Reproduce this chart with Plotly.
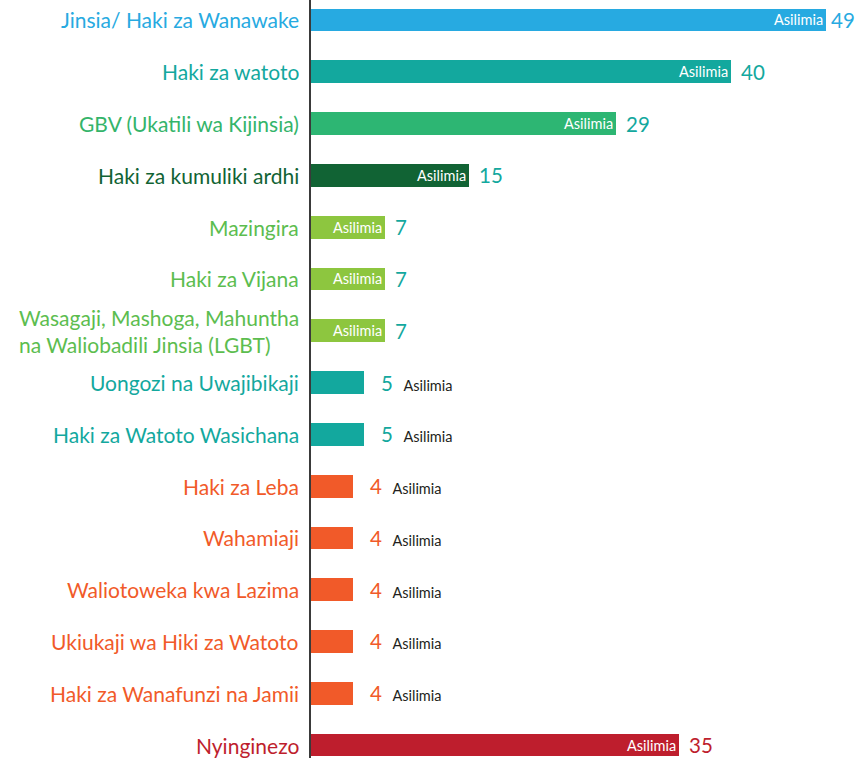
import plotly.graph_objects as go

categories = [
    "Jinsia/ Haki za Wanawake",
    "Haki za watoto",
    "GBV (Ukatili wa Kijinsia)",
    "Haki za kumuliki ardhi",
    "Mazingira",
    "Haki za Vijana",
    "Wasagaji, Mashoga, Mahuntha<br>na Waliobadili Jinsia (LGBT)",
    "Uongozi na Uwajibikaji",
    "Haki za Watoto Wasichana",
    "Haki za Leba",
    "Wahamiaji",
    "Waliotoweka kwa Lazima",
    "Ukiukaji wa Hiki za Watoto",
    "Haki za Wanafunzi na Jamii",
    "Nyinginezo",
]
values = [49, 40, 29, 15, 7, 7, 7, 5, 5, 4, 4, 4, 4, 4, 35]
unit_label = "Asilimia"

BLUE = "#27aae1"
TEAL = "#13a89e"
GREEN = "#2db673"
DKGREEN = "#116334"
LIME = "#8dc63f"
LIMETXT = "#5cbd4f"
ORANGE = "#f15a29"
RED = "#be1e2d"

bar_colors = [BLUE, TEAL, GREEN, DKGREEN, LIME, LIME, LIME, TEAL, TEAL,
              ORANGE, ORANGE, ORANGE, ORANGE, ORANGE, RED]
label_colors = [BLUE, TEAL, "#34b46a", DKGREEN, LIMETXT, LIMETXT, LIMETXT, TEAL, TEAL,
                ORANGE, ORANGE, ORANGE, ORANGE, ORANGE, RED]
value_colors = [BLUE, TEAL, TEAL, TEAL, TEAL, TEAL, TEAL, TEAL, TEAL,
                ORANGE, ORANGE, ORANGE, ORANGE, ORANGE, RED]

FONT = "Lato"
LABEL_SIZE = 21
SMALL_SIZE = 14.5
VALUE_SIZE = 20.5

ypos = list(range(len(categories)))

fig = go.Figure(go.Bar(
    x=values, y=ypos, orientation="h",
    marker=dict(color=bar_colors, line=dict(width=0)),
    width=0.44, hoverinfo="skip",
))

annotations = []
for i, (cat, v) in enumerate(zip(categories, values)):
    annotations.append(dict(
        x=0, y=i, xref="x", yref="y", text=cat, showarrow=False,
        xanchor="right", yanchor="middle", xshift=-10, align="left",
        font=dict(family=FONT, size=LABEL_SIZE, color=label_colors[i]),
    ))
    if v >= 7:
        annotations.append(dict(
            x=v, y=i, xref="x", yref="y", text=unit_label, showarrow=False,
            xanchor="right", yanchor="middle", xshift=-1,
            font=dict(family=FONT, size=SMALL_SIZE, color="white"),
        ))
        annotations.append(dict(
            x=v, y=i, xref="x", yref="y", text=str(v), showarrow=False,
            xanchor="left", yanchor="middle", xshift=3 if v > 45 else 8,
            font=dict(family=FONT, size=VALUE_SIZE, color=value_colors[i]),
        ))
    else:
        annotations.append(dict(
            x=v, y=i, xref="x", yref="y",
            text=f"{v}  <span style='font-size:{SMALL_SIZE}px;color:#231f20'>{unit_label}</span>",
            showarrow=False, xanchor="left", yanchor="middle", xshift=15,
            font=dict(family=FONT, size=VALUE_SIZE, color=value_colors[i]),
        ))

fig.update_layout(
    width=857, height=758,
    margin=dict(l=311, r=0, t=0, b=0),
    paper_bgcolor="white", plot_bgcolor="white",
    showlegend=False,
    bargap=0,
    xaxis=dict(range=[0, 52], showgrid=False, zeroline=False,
               showticklabels=False, showline=False, fixedrange=True),
    yaxis=dict(range=[14.25, -0.386], showgrid=False, zeroline=False,
               showticklabels=False, showline=True, linecolor="#3a3a3a",
               linewidth=2, fixedrange=True),
    annotations=annotations,
)

fig.write_html("out.html", config={"displayModeBar": False},
               post_script="document.body.style.margin='0';document.body.style.overflow='hidden';")
